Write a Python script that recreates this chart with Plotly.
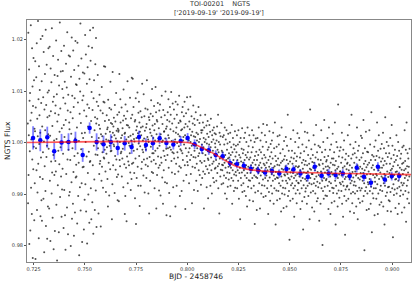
import numpy as np
import plotly.graph_objects as go

# ---- raw NGTS photometry (flux offsets from 1, in units of 1e-4), ordered in time ----
raw_offsets = [
 37, -118, 213, -63, 14, 142, -197, 81, -17, 96, -171, 43, 228, -88, 6, 58, -139, 183, -33, 109, -224, 71, -52, 164, -8, 121, -151, 27,
 -79, 22, 158, -226, 68, -11, 127, -54, 193, -131, 46, -97, 12, 236, -41, 84, -186, 148, -3, 53, 102, -67, 19, -143, 201, -29, 77, -112,
 119, -152, 31, 207, -71, -19, 88, -109, 176, 2, -213, 64, -46, 133, 24, -94, 219, -162, 73, -28, 151, -6, -187, 49, 97, -124, 16, 183,
 -12, 101, -128, 52, 186, -74, 13, -191, 144, 61, -37, 117, -99, 222, -58, 32, -146, 79, 168, -24, -207, 89, 4, -63, 131, -172, 57, -36,
 72, -56, 198, -121, 7, 94, -229, 41, 129, -83, 161, -16, 54, -174, 111, -42, 21, 233, -106, 66, -9, 138, -66, 178, -144, 28, -91, 104,
 -51, 139, -22, 87, -166, 34, 188, -92, 11, 118, -141, 76, -208, 44, 153, -61, 1, 107, -126, 214, -33, 62, -178, 93, -14, 169, -103, 39,
 26, -96, 167, -34, 59, -201, 128, 17, -77, 204, -148, 91, -11, 47, -119, 179, -57, 69, -181, 141, -26, 86, -136, 8, 197, -68, 113, -43,
 -66, 112, 29, -157, 194, -21, 78, -104, 149, -39, 3, -219, 124, 56, -87, 99, 231, -132, 38, -13, 163, -79, 18, -193, 82, -48, 136, 9,
 91, -47, -169, 62, 134, -111, 19, 209, -81, 1, 171, -134, 51, -27, 114, -196, 74, 146, -59, 31, -101, 187, -18, 67, -156, 123, -38, 218,
 -36, 159, -89, 42, -149, 98, 11, 184, -116, 63, -44, 223, -177, 86, -6, 121, -72, 24, -131, 49, 152, -23, -93, 203, 37, -164, 79, -2,
 46, -24, 131, -11, 71, -138, 9, 34, -61, 93, -41, 27, -36, 62, -163, 16, -2, -74, 108, -47, 12, -19, 57, -88, 3, 79, -29, 148,
 -31, 78, -14, 42, 147, -56, 17, -96, 6, -22, 53, -9, 26, -71, 29, -124, 83, 4, -39, 44, -103, 67, -6, 21, -52, 118, -17, 38,
 64, -16, 11, -149, 36, -81, 137, 19, -44, 31, -4, 48, -7, 14, -98, 73, -26, 41, -53, 8, 96, -33, 23, -67, 2, 54, -112, 27,
 -62, 21, 24, -114, 59, 133, -34, 1, -46, 84, 39, -21, 9, -18, 68, -66, 14, -31, 28, -12, 43, -87, 103, -3, 52, -42, 17, -139,
 19, -104, 74, 46, -49, 6, -153, 34, -27, 61, 119, -79, 33, -37, 11, -1, -44, 29, -6, -21, 87, -58, 13, -92, 47, 4, -71, 126,
 -41, 54, -4, 124, 16, -39, 69, -16, 7, -59, 2, 41, -108, 44, -31, 86, -158, 24, 9, -69, 31, -13, 97, -47, 18, -84, 58, -2,
 79, -26, 39, -123, 21, -7, 61, -84, 29, 14, -51, 49, -38, 114, -14, 31, 4, -19, -64, 94, -33, 8, 51, -97, 23, -9, 66, -43,
 -14, 29, -69, 36, 121, -31, 11, 64, -46, 6, -99, 1, 49, -138, 44, -28, 26, -74, 19, 56, -8, 82, -37, 13, -57, 104, -21, 33,
 51, -59, 9, -21, -34, 71, 24, -89, 36, 4, -16, 108, -41, 59, -128, 16, 44, -63, 41, -11, 77, -27, 3, -49, 28, -93, 62, -6,
 -44, 74, 11, -103, 16, -29, 49, -39, 91, 1, -68, 36, 4, -119, 63, -16, -54, 21, 22, -26, 53, -77, 8, 99, -34, 27, -12, -141,
 31, -79, 44, -24, 59, -11, 14, 84, -49, 9, -98, 41, -9, 69, -143, 26, 54, -14, 98, -36, 3, -58, 37, -19, 76, -4, -87, 22,
 -21, 64, -31, 46, 1, -61, 6, -124, 79, 19, -41, 29, -84, 54, -1, -19, 74, -29, 16, -56, 38, -7, 91, -46, 12, -104, 43, -13,
 41, -49, 24, -16, -94, 59, 26, -21, 69, -34, 4, 11, -74, 51, -4, 29, 79, -44, 14, -129, 36, -11, 57, -63, 7, -26, 88, -38,
 31, -44, 9, 64, -19, 4, -79, 41, -11, 26, -34, 89, 1, -61, 14, -24, 51, -6, -118, 21, -47, 37, -3, 72, -28, 12, -92, 46,
 -16, 34, -49, 11, -29, 59, -6, -74, 19, -41, 4, -11, 44, -94, 16, -26, 69, -54, 1, -21, 38, -63, 7, -36, 53, -13, -82, 24,
 19, -39, -4, -69, 24, -21, 39, -56, -9, 9, -128, 29, -36, 1, -61, 54, -24, 6, -46, -14, 33, -87, -2, 17, -52, 42, -31, -108,
 -34, 11, -59, -4, 34, -44, -19, 21, -84, -9, 46, -29, -54, 1, -99, 14, -41, 24, -16, -69, 6, -37, 29, -77, -23, 18, -51, -2,
 -9, -49, 16, -34, -74, 4, -24, 31, -59, -14, -46, 54, -89, -19, 1, -41, -138, 19, -31, -4, -66, 12, -53, -27, 38, -81, -16, -43,
 -54, -19, 11, -44, -79, -29, 14, -64, -4, -39, 29, -99, -24, -49, 6, -69, -34, 24, -109, -14, -58, -2, -86, -31, 17, -47, -72, -21,
 -29, -59, 1, -44, 19, -84, -24, -49, -9, -69, 34, -39, -119, -19, -54, 9, -74, -34, -4, -94, -62, -13, -41, 22, -88, -27, -57, -6,
 -64, -19, -44, 14, -89, -34, -54, -4, -74, 24, -39, -109, -24, -59, 1, -49, -149, -29, 9, -69, -37, -83, -12, -58, 28, -96, -46, -21,
 -39, -79, -14, -54, 9, -94, -34, -64, 19, -49, -24, -104, -44, 1, -69, -29, -124, -59, 29, -19, -86, -47, -7, -73, -33, 14, -112, -52,
 -74, -29, -59, 4, -44, -89, -19, -54, 24, -69, -39, -9, -114, -49, 14, -84, -34, -64, 1, -158, -26, -97, -43, 8, -67, -18, -51, -131,
 -34, -69, 9, -49, -94, -24, -59, 29, -44, -79, -14, -54, -128, -39, 4, -64, -19, -99, -49, 19, -83, -31, -57, -8, -72, 36, -106, -41,
 -59, -24, -84, -44, 14, -69, -29, -104, -49, 1, -64, -39, 34, -89, -54, -14, -74, -139, -34, -9, -96, -47, 22, -68, -27, -113, -52, -3,
 -41, -84, -19, -61, 4, -99, -54, -31, -74, 19, -49, -119, -64, -11, -89, -46, 39, -71, -26, -159, -57, -36, -93, -8, -68, -112, -43, 12,
 -69, -31, -94, -56, -4, -79, -44, 14, -109, -59, -21, -84, -39, -134, -66, 29, -51, -99, -36, -74, -13, -88, -53, -127, -33, 3, -62, -101,
 -26, -64, -89, -46, 11, -74, -56, -124, -34, -6, -79, -61, 54, -104, -41, -69, -16, -94, -51, -189, -72, -37, -113, -58, 7, -83, -29, -66,
 -54, -16, -79, -41, -109, -59, 24, -89, -31, -69, -144, -49, -21, -84, 1, -64, -99, -46, -36, -74, -118, -27, -61, 18, -92, -48, -78, -9,
 -79, -46, 9, -66, -99, -29, -54, -129, -21, -74, 39, -61, -89, -39, -114, -4, -69, -51, -169, -34, -83, -58, -17, -106, -43, 21, -71, -95,
 -36, -89, -59, -9, -74, -119, -44, 19, -84, -56, -24, -104, -64, 4, -41, -79, -149, -51, 64, -69, -31, -97, -53, -13, -81, -61, -126, -38,
 -61, -24, -94, -49, 14, -79, -39, -134, -71, -4, -54, -99, -29, -84, 34, -66, -46, -114, -19, -76, -57, -108, -33, -87, -6, -63, -42, -152,
 -44, -79, -9, -66, -119, -34, -56, 24, -89, -61, -19, -74, -199, -41, -94, 1, -51, -109, -69, 44, -28, -86, -58, -14, -103, -47, -73, -37,
 -71, -34, -104, -54, 9, -84, -46, -26, -129, -59, 29, -76, -49, -94, -14, -66, -139, -39, -79, -4, -57, -117, -31, -88, -62, 17, -43, -98,
 -31, -89, -61, -19, -114, -44, 39, -74, -54, -159, -36, -84, 1, -66, -99, -51, -9, -124, -69, 74, -47, -93, -27, -62, -107, -16, -78, -56,
 -56, -9, -81, -39, -94, -64, 19, -119, -29, -76, -49, -144, -14, -84, -59, 4, -104, -46, -71, -179, -33, -91, -67, -22, -113, -52, -86, -41,
 -84, -39, 14, -66, -109, -26, -54, -91, 34, -71, -44, -134, -4, -79, -61, -99, -31, 54, -74, -49, -118, -57, -23, -96, -68, -11, -83, -137,
 -39, -76, -21, -99, -56, 1, -84, -64, -124, -29, -61, 29, -94, -44, -149, -16, -69, -109, -51, -6, -88, -34, -72, -117, -47, -93, -59, 13,
 -66, -29, -89, 9, -51, -114, -74, -21, -59, 44, -104, -41, -79, -209, -54, -11, -94, -36, -69, 21, -87, -48, -131, -62, -18, -99, -43, -77,
 -19, -81, -56, -129, -39, 24, -71, -94, -4, -61, -119, -34, -86, 59, -49, -174, -24, -76, -99, -44, -63, -108, -27, -89, -53, -8, -141, -68,
 -76, -34, 4, -89, -61, -109, -26, -64, 39, -81, -46, -139, -16, -99, -54, 14, -71, -29, -121, -49, -92, -58, -12, -84, -37, -116, -66, -3,
 -49, -94, -31, -69, 19, -124, -44, -79, -11, -61, -159, -36, -84, 49, -64, -104, -21, -74, -41, 1, -97, -56, -133, -28, -87, -67, -6, -112,
 -86, -21, -59, -114, -41, 9, -96, -54, -134, -31, -69, 34, -51, -89, -6, -66, -184, -46, -81, -24, -102, -63, -38, -91, -14, -72, -127, -57,
 -34, -71, 14, -99, -56, -26, -89, -139, -44, 1, -74, -61, -119, -16, -86, 69, -49, -104, -31, -64, -93, -22, -78, -53, -136, -41, -9, -83,
 -61, -101, -39, -6, -79, -54, -126, 24, -69, -36, -94, -51, -14, -154, -64, 39, -84, -46, -109, -21, -73, -58, -31, -97, -47, -118, -66, -12,
]
raw_t_start = 0.7222   # first exposure (BJD - 2458746)
raw_t_end = 0.9085     # last exposure

# ---- binned points ----
bin_time = [0.72476, 0.72829, 0.73169, 0.73508, 0.73866, 0.74205, 0.74545, 0.74898, 0.75237, 0.75577,
            0.75916, 0.76270, 0.76609, 0.76948, 0.77287, 0.77645, 0.77985, 0.78324, 0.78653, 0.78983,
            0.79322, 0.79680, 0.80019, 0.80359, 0.80712, 0.81051, 0.81390, 0.81730, 0.82083, 0.82423,
            0.82762, 0.83101, 0.83459, 0.83799, 0.84138, 0.84492, 0.84840, 0.85184, 0.85523, 0.85882,
            0.86221, 0.86560, 0.86899, 0.87238, 0.87592, 0.87931, 0.88270, 0.88624, 0.88963, 0.89302,
            0.89641, 0.89980, 0.90339]
bin_flux = [1.00089, 1.00044, 1.00103, 0.99832, 1.00000, 1.00012, 1.00031, 0.99760, 1.00282, 1.00012,
            0.99967, 1.00012, 0.99896, 0.99986, 0.99915, 1.00108, 0.99954, 0.99986, 1.00083, 0.99992,
            0.99961, 1.00031, 1.00089, 0.99967, 0.99876, 0.99851, 0.99760, 0.99735, 0.99605, 0.99580,
            0.99547, 0.99489, 0.99458, 0.99420, 0.99445, 0.99397, 0.99487, 0.99478, 0.99400, 0.99329,
            0.99528, 0.99354, 0.99400, 0.99368, 0.99400, 0.99348, 0.99509, 0.99335, 0.99219, 0.99528,
            0.99284, 0.99348, 0.99348]
bin_err = [0.00226, 0.00213, 0.00206, 0.00161, 0.00168, 0.00168, 0.00180, 0.00135, 0.00110, 0.00168,
           0.00168, 0.00148, 0.00142, 0.00142, 0.00135, 0.00122, 0.00129, 0.00129, 0.00110, 0.00100,
           0.00097, 0.00097, 0.00095, 0.00095, 0.00092, 0.00090, 0.00088, 0.00085, 0.00082, 0.00080,
           0.00080, 0.00080, 0.00078, 0.00078, 0.00080, 0.00082, 0.00085, 0.00082, 0.00080, 0.00085,
           0.00090, 0.00082, 0.00085, 0.00085, 0.00082, 0.00085, 0.00090, 0.00085, 0.00085, 0.00090,
           0.00085, 0.00085, 0.00085]

# ---- transit model ----
model_time = [0.7218, 0.8000, 0.80325, 0.80649, 0.80969, 0.81294, 0.81618, 0.81938, 0.82263, 0.82587,
              0.82907, 0.83232, 0.83716, 0.84845, 0.8759, 0.90339, 0.9092]
model_flux = [1.0000, 1.0000, 0.99967, 0.99915, 0.99851, 0.99787, 0.99710, 0.99632, 0.99561, 0.99516,
              0.99484, 0.99464, 0.99445, 0.99426, 0.99400, 0.99381, 0.99377]

x_ticks = [0.725, 0.750, 0.775, 0.800, 0.825, 0.850, 0.875, 0.900]
y_ticks = [0.98, 0.99, 1.00, 1.01, 1.02]

raw_flux = 1.0 + np.array(raw_offsets) * 1e-4
raw_time = np.linspace(raw_t_start, raw_t_end, len(raw_offsets))

fig = go.Figure()
fig.add_trace(go.Scatter(x=raw_time, y=raw_flux, mode="markers",
                         marker=dict(color="rgba(20,20,20,0.75)", size=2, line=dict(width=0)),
                         hoverinfo="skip", showlegend=False))
fig.add_trace(go.Scatter(x=bin_time, y=bin_flux, mode="markers",
                         marker=dict(color="#0000ff", size=4.5, symbol="circle", line=dict(width=0)),
                         error_y=dict(type="data", array=bin_err, color="rgba(0,0,255,0.5)",
                                      thickness=1.8, width=0),
                         showlegend=False))
fig.add_trace(go.Scatter(x=model_time, y=model_flux, mode="lines", line_shape="spline",
                         line=dict(color="rgba(255,0,0,0.65)", width=1.6),
                         showlegend=False))

font = "DejaVu Sans, sans-serif"
fig.update_layout(
    width=415, height=281,
    margin=dict(l=27, r=4, t=20, b=19),
    paper_bgcolor="white", plot_bgcolor="white",
    font=dict(family=font, color="#222"),
    xaxis=dict(range=[0.7218, 0.9092], tickvals=x_ticks,
               ticktext=[f"{v:.3f}" for v in x_ticks],
               tickfont=dict(size=5, color="#333"), ticks="outside", ticklen=2, tickwidth=0.6,
               tickcolor="#555", showgrid=False, zeroline=False,
               showline=True, mirror=True, linecolor="#888", linewidth=1),
    yaxis=dict(range=[0.9768, 1.0238], tickvals=y_ticks,
               ticktext=[f"{v:.2f}" for v in y_ticks],
               tickfont=dict(size=5, color="#333"), ticks="outside", ticklen=2, tickwidth=0.6,
               tickcolor="#555", showgrid=False, zeroline=False,
               showline=True, mirror=True, linecolor="#888", linewidth=1),
    annotations=[
        dict(text="TOI-00201    NGTS", x=0.5, y=1, xref="paper", yref="paper",
             yshift=10, showarrow=False, font=dict(size=6.5, color="#333"), xanchor="center", yanchor="bottom"),
        dict(text="['2019-09-19' '2019-09-19']", x=0.5, y=1, xref="paper", yref="paper",
             yshift=1, showarrow=False, font=dict(size=6.5, color="#333"), xanchor="center", yanchor="bottom"),
        dict(text="BJD - 2458746", x=0.44, y=-0.06, xref="paper", yref="paper",
             showarrow=False, font=dict(size=7.5, color="#222"), xanchor="center", yanchor="middle"),
        dict(text="NGTS Flux", x=0, y=0.5, xref="paper", yref="paper", xshift=-20,
             showarrow=False, textangle=-90, font=dict(size=7.5, color="#222"), xanchor="center", yanchor="middle"),
    ],
)
fig.write_html("out.html", config={"displayModeBar": False},
               post_script="document.body.style.margin='0';document.body.style.padding='0';")
